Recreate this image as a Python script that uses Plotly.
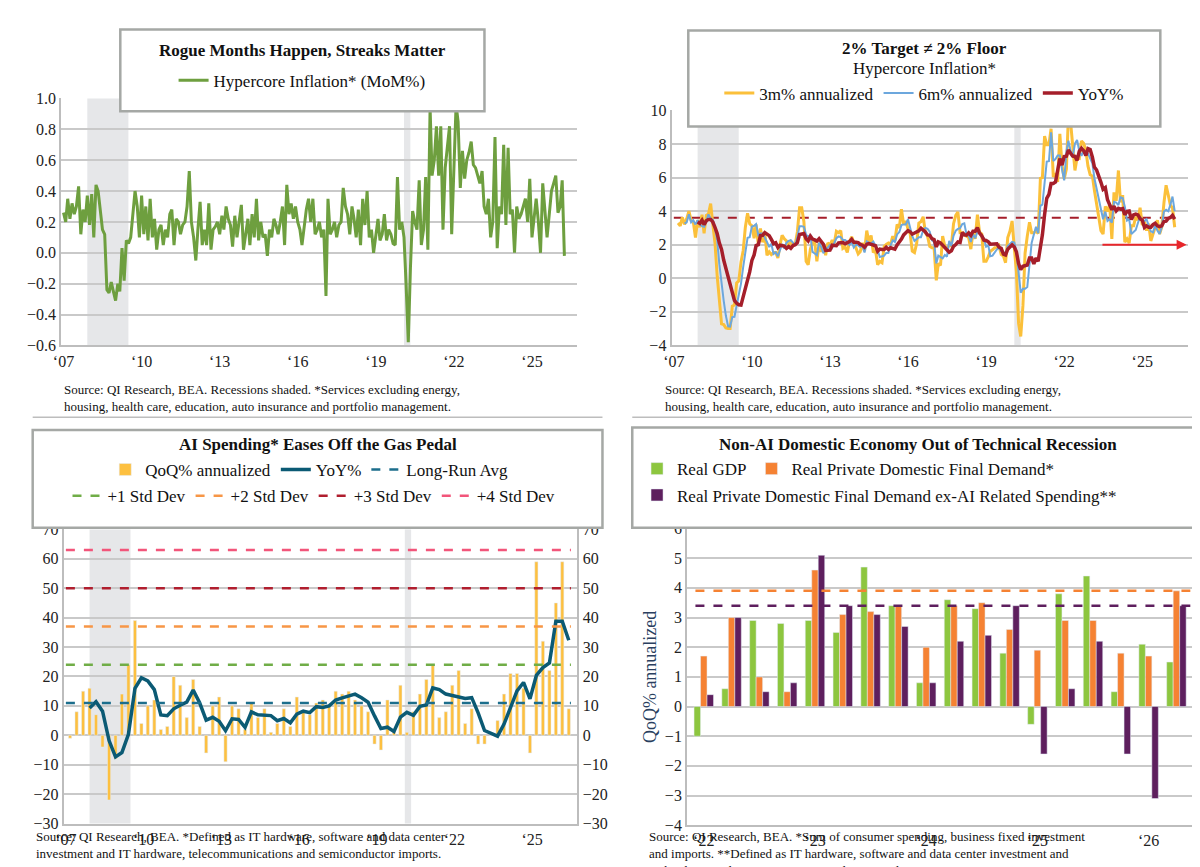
import numpy as np
import pandas as pd
import plotly.graph_objects as go

# ---- hypercore inflation, MoM %, Jan 2007 .. Apr 2026 ----
mom = [
    0.26, 0.20, 0.35, 0.22, 0.32, 0.25, 0.30, 0.43, 0.12, 0.28, 0.20, 0.37,   # 2007
    0.18, 0.38, 0.10, 0.44, 0.40, 0.25, 0.15, 0.12, -0.24, -0.26, -0.19, -0.25,  # 2008
    -0.31, -0.20, -0.25, 0.03, -0.18, 0.08, 0.06, 0.10, 0.25, 0.40, 0.30, 0.10,  # 2009
    0.37, 0.12, 0.30, 0.08, 0.35, 0.10, 0.22, 0.02, 0.15, 0.18, 0.05, 0.15,   # 2010
    0.10, 0.25, 0.28, 0.05, 0.22, 0.20, 0.12, 0.18, 0.20, 0.30, 0.53, 0.20,   # 2011
    0.10, -0.05, 0.15, 0.33, 0.05, 0.15, 0.05, 0.32, 0.02, 0.15, 0.17, 0.20,  # 2012
    0.12, 0.24, 0.15, 0.30, 0.22, 0.18, 0.04, 0.24, 0.10, 0.20, 0.31, 0.02,   # 2013
    0.12, 0.22, 0.05, 0.25, 0.10, 0.35, 0.08, 0.20, 0.10, 0.12, -0.02, 0.15,  # 2014
    0.10, 0.22, 0.18, 0.12, 0.20, 0.30, 0.05, 0.44, 0.25, 0.32, 0.22, 0.30,   # 2015
    0.20, 0.15, 0.05, 0.18, 0.28, 0.35, 0.20, 0.35, 0.12, 0.15, 0.20, 0.10,   # 2016
    0.15, -0.28, 0.35, 0.12, 0.15, 0.20, 0.10, 0.18, 0.20, 0.42, 0.30, 0.25,  # 2017
    0.12, 0.30, 0.22, 0.10, 0.28, 0.05, 0.35, 0.18, 0.40, 0.10, 0.15, 0.00,   # 2018
    0.10, 0.22, 0.08, 0.12, 0.25, 0.08, 0.15, 0.12, 0.06, 0.05, 0.49, 0.15,   # 2019
    0.20, 0.10, -0.20, -0.58, -0.10, 0.27, 0.20, 0.15, 0.47, 0.05, 0.15, 0.49,  # 2020
    0.02, 0.94, 0.50, 0.60, 0.82, 0.50, 0.82, 0.15, 0.55, 0.70, 0.82, 0.12,   # 2021
    0.50, 0.96, 0.85, 0.42, 0.66, 0.48, 0.60, 0.65, 0.72, 0.57, 0.55, 0.50,   # 2022
    0.45, 0.53, 0.30, 0.25, 0.35, 0.10, 0.20, 0.75, 0.03, 0.30, 0.25, 0.70,   # 2023
    0.18, 0.68, 0.25, 0.28, 0.00, 0.30, 0.22, 0.25, 0.30, 0.35, 0.20, 0.48,   # 2024
    0.10, 0.25, 0.35, 0.20, 0.00, 0.45, 0.30, 0.10, 0.25, 0.40, 0.45, 0.50,   # 2025
    0.26, 0.30, 0.47, -0.02,                                                  # 2026
]
hyper_avg = 3.6
floor_level = 2.0

# ---- AI spending, QoQ % annualized, 2007Q1 .. 2026Q2 ----
ai_qoq = [
    -1, 8, 15, 16,   7, -4, -22, -8,   14, 24, 39, 4,   10, 12, 2, 3,
    20, 17, 6, 19,   3, -6, 10, 13,   -9, 10, 9, 2,   11, 6, 9, 1,
    4, 9, 3, 13,   8, 7, 11, 12,   10, 15, 14, 15,   12, 10, 8, -3,
    -5, 12, 2, 17,   1, 8, 14, 19,   24, 6, 8, 17,   22, 4, 9, -3,
    -3, 0, 5, 14,   21, 21, 16, -6,   59, 32, 22, 45,   59, 9,
]
ai_bands = {"Long-Run Avg": 11, "+1 Std Dev": 24, "+2 Std Dev": 37,
            "+3 Std Dev": 50, "+4 Std Dev": 63}

# ---- Non-AI domestic economy, QoQ % annualized, 2022Q1 .. 2026Q2 ----
gdp = [-1.0, 0.6, 2.9, 2.8, 2.9, 2.5, 4.7, 3.4, 0.8, 3.6, 3.3, 1.8, -0.6, 3.8, 4.4, 0.5, 2.1, 1.5]
pdfd = [1.7, 3.0, 1.0, 0.5, 4.6, 3.1, 3.2, 3.4, 2.0, 3.4, 3.5, 2.6, 1.9, 2.9, 2.9, 1.8, 1.7, 3.9]
pdfd_ex_ai = [0.4, 3.0, 0.5, 0.8, 5.1, 3.4, 3.1, 2.7, 0.8, 2.2, 2.4, 3.4, -1.6, 0.6, 2.2, -1.6, -3.1, 3.4]
pdfd_avg = 3.9
pdfd_ex_ai_avg = 3.4
q_ticks = ["‘22", "‘23", "‘24", "‘25", "‘26"]

recessions = [("2007-12-01", "2009-06-30"), ("2020-02-01", "2020-04-30")]
year_ticks = [f"{y}-01-01" for y in range(2007, 2026, 3)]
year_text = [f"‘{y % 100:02d}" for y in range(2007, 2026, 3)]

# derived series (as the chart defines them)
months = pd.date_range("2007-01-01", periods=len(mom), freq="MS")
g = pd.Series(1 + np.array(mom) / 100, index=months)
m3 = (g.rolling(3).apply(np.prod) ** 4 - 1) * 100
m6 = (g.rolling(6).apply(np.prod) ** 2 - 1) * 100
yoy = (g.rolling(12).apply(np.prod) - 1) * 100

quarters = pd.date_range("2007-02-15", periods=len(ai_qoq), freq="3MS")
qg = pd.Series((1 + np.array(ai_qoq) / 100) ** 0.25, index=quarters)
ai_yoy = (qg.rolling(4).apply(np.prod) - 1) * 100

FONT = "Liberation Serif"
GRID = "#C9C9C9"
fig = go.Figure()

# top-left
fig.add_trace(go.Scatter(x=months, y=mom, mode="lines", name="Hypercore Inflation* (MoM%)",
                         line=dict(color="#6E9F3F", width=3), xaxis="x", yaxis="y", legend="legend"))
# top-right
fig.add_trace(go.Scatter(x=months, y=[hyper_avg] * len(months), mode="lines", showlegend=False,
                         line=dict(color="#A51E2A", width=2, dash="dash"), xaxis="x2", yaxis="y2"))
fig.add_trace(go.Scatter(x=months, y=m3, mode="lines", name="3m% annualized",
                         line=dict(color="#FBC03A", width=3), xaxis="x2", yaxis="y2", legend="legend2"))
fig.add_trace(go.Scatter(x=months, y=m6, mode="lines", name="6m% annualized",
                         line=dict(color="#6CA7DD", width=2), xaxis="x2", yaxis="y2", legend="legend2"))
fig.add_trace(go.Scatter(x=months, y=yoy, mode="lines", name="YoY%",
                         line=dict(color="#A51E2A", width=3.5), xaxis="x2", yaxis="y2", legend="legend2"))
# bottom-left
band_colors = {"Long-Run Avg": "#1C6E8C", "+1 Std Dev": "#70AD47", "+2 Std Dev": "#F79646",
               "+3 Std Dev": "#B01E2E", "+4 Std Dev": "#F2557A"}
fig.add_trace(go.Bar(x=quarters, y=ai_qoq, name="QoQ% annualized", marker_color="#FDC040",
                     width=1000 * 3600 * 24 * 45, xaxis="x3", yaxis="y3", legend="legend3"))
band_x = [pd.Timestamp("2007-01-01"), pd.Timestamp("2026-07-01")]
for name, val in ai_bands.items():
    fig.add_trace(go.Scatter(x=band_x, y=[val, val], mode="lines", name=name,
                             line=dict(color=band_colors[name], width=2.5, dash="dash"),
                             xaxis="x3", yaxis="y3",
                             legend="legend3" if name == "Long-Run Avg" else "legend5"))
fig.add_trace(go.Scatter(x=quarters, y=ai_yoy, mode="lines", name="YoY%",
                         line=dict(color="#0B5A74", width=3.5), xaxis="x3", yaxis="y3", legend="legend3"))
fig.data = [fig.data[0], fig.data[1], fig.data[2], fig.data[3], fig.data[4], fig.data[5],
            fig.data[11], fig.data[6], fig.data[7], fig.data[8], fig.data[9], fig.data[10]]
fig.add_trace(go.Scatter(x=band_x, y=[None, None], showlegend=False, xaxis="x3", yaxis="y5"))
# bottom-right
qi = list(range(len(gdp)))
fig.add_trace(go.Bar(x=qi, y=gdp, name="Real GDP", marker_color="#8DC63F",
                     xaxis="x4", yaxis="y4", legend="legend4"))
fig.add_trace(go.Bar(x=qi, y=pdfd, name="Real Private Domestic Final Demand*", marker_color="#F58233",
                     xaxis="x4", yaxis="y4", legend="legend4"))
fig.add_trace(go.Bar(x=qi, y=pdfd_ex_ai, name="Real Private Domestic Final Demand ex-AI Related Spending**",
                     marker_color="#5E1F5E", xaxis="x4", yaxis="y4", legend="legend6"))
for val, col in [(pdfd_avg, "#F58233"), (pdfd_ex_ai_avg, "#5E1F5E")]:
    fig.add_trace(go.Scatter(x=[-0.3, len(gdp) - 0.5], y=[val, val], mode="lines", showlegend=False,
                             line=dict(color=col, width=2.5, dash="dash"), xaxis="x4", yaxis="y4"))

tick_font = dict(family=FONT, size=16, color="#222")
ax_common = dict(showgrid=False, showline=True, linecolor="#BDBDBD", linewidth=2,
                 ticks="", tickfont=tick_font, zeroline=False)
y_common = dict(showgrid=True, gridcolor=GRID, gridwidth=2, showline=True, linecolor="#BDBDBD",
                linewidth=2, ticks="", tickfont=tick_font, zeroline=False)
date_x = dict(ax_common, type="date", tickvals=year_ticks, ticktext=year_text,
              range=["2006-12-01", "2026-10-01"])

shapes = []
for xr in ["x", "x2", "x3"]:
    for s, e in recessions:
        shapes.append(dict(type="rect", xref=xr, yref=f"{'y' if xr == 'x' else 'y' + xr[1:]} domain",
                           x0=s, x1=e, y0=0, y1=1, fillcolor="#E6E7E9", line_width=0, layer="below"))
for x0, y0, x1, y1 in [(0.0875, 0.888, 0.393, 0.984), (0.564, 0.870, 0.96, 0.983),
                       (0.014, 0.398, 0.492, 0.513), (0.517, 0.398, 0.997, 0.516)]:
    shapes.append(dict(type="rect", xref="paper", yref="paper", x0=x0, y0=y0, x1=x1, y1=y1,
                       fillcolor="white", line=dict(color="#A5A8A5", width=2.5), layer="above"))
for x0, x1 in [(0.014, 0.492), (0.517, 0.997)]:
    shapes.append(dict(type="line", xref="paper", yref="paper", x0=x0, x1=x1, y0=0.528, y1=0.528,
                       line=dict(color="#BDBDBD", width=1.5)))

def note(x, y, text, size=16, bold=False, anchor="center", valign="middle"):
    return dict(xref="paper", yref="paper", x=x, y=y, text=f"<b>{text}</b>" if bold else text,
                showarrow=False, xanchor=anchor, yanchor=valign, align="left" if anchor == "left" else "center",
                font=dict(family=FONT, size=size, color="#111"))

annotations = [
    note(0.240, 0.960, "Rogue Months Happen, Streaks Matter", 17, True),
    note(0.762, 0.962, "2% Target ≠ 2% Floor", 17, True),
    note(0.762, 0.938, "Hypercore Inflation*", 17),
    note(0.253, 0.496, "AI Spending* Eases Off the Gas Pedal", 17, True),
    note(0.757, 0.496, "Non-AI Domestic Economy Out of Technical Recession", 17, True),
    note(0.039, 0.572, "Source: QI Research, BEA. Recessions shaded. *Services excluding energy,<br>"
         "housing, health care, education, auto insurance and portfolio management.", 13, anchor="left", valign="top"),
    note(0.543, 0.572, "Source: QI Research, BEA. Recessions shaded. *Services excluding energy,<br>"
         "housing, health care, education, auto insurance and portfolio management.", 13, anchor="left", valign="top"),
    note(0.015, 0.046, "Source: QI Research, BEA. *Defined as IT hardware, software and data center<br>"
         "investment and IT hardware, telecommunications and semiconductor imports.", 13, anchor="left", valign="top"),
    note(0.529, 0.046, "Source: QI Research, BEA. *Sum of consumer spending, business fixed investment<br>"
         "and imports. **Defined as IT hardware, software and data center investment and<br>"
         "IT hardware, telecommunications and semiconductor imports.", 13, anchor="left", valign="top"),
    dict(xref="x2", yref="y2", x="2026-09-15", y=floor_level, ax="2023-06-01", ay=floor_level,
         axref="x2", ayref="y2", showarrow=True, arrowhead=2, arrowsize=1, arrowwidth=2,
         arrowcolor="#E8262B", text=""),
]

leg_font = dict(family=FONT, size=17, color="#111")
def legend(x, y, anchor="center"):
    return dict(x=x, y=y, xanchor=anchor, yanchor="middle", orientation="h", bgcolor="rgba(0,0,0,0)",
                font=leg_font, itemwidth=30, tracegroupgap=0, traceorder="normal")

fig.update_layout(
    width=1200, height=867, margin=dict(l=0, r=0, t=0, b=0),
    paper_bgcolor="white", plot_bgcolor="white", barmode="group", bargap=0.3, bargroupgap=0,
    showlegend=True, font=dict(family=FONT),
    xaxis=dict(date_x, domain=[0.038, 0.471], anchor="y"),
    yaxis=dict(y_common, domain=[0.6125, 0.903], anchor="x", range=[-0.6, 1.0], dtick=0.2, tickformat=".1f"),
    xaxis2=dict(date_x, domain=[0.550, 0.983], anchor="y2"),
    yaxis2=dict(y_common, domain=[0.6125, 0.889], anchor="x2", range=[-4, 10], dtick=2),
    xaxis3=dict(date_x, domain=[0.040, 0.471], anchor="y3"),
    yaxis3=dict(y_common, domain=[0.050, 0.396], anchor="x3", range=[-30, 70], dtick=10),
    yaxis5=dict(y_common, overlaying="y3", side="right", anchor="x3", range=[-30, 70], dtick=10,
                showgrid=False),
    xaxis4=dict(ax_common, domain=[0.563, 0.9875], anchor="y4", range=[-0.6, len(gdp) - 0.4],
                tickvals=[0, 4, 8, 12, 16], ticktext=q_ticks),
    yaxis4=dict(y_common, domain=[0.048, 0.397], anchor="x4", range=[-4, 6], dtick=1,
                title=dict(text="QoQ% annualized", font=dict(family=FONT, size=18), standoff=4)),
    legend=legend(0.240, 0.924),
    legend2=legend(0.762, 0.909),
    legend3=legend(0.246, 0.466),
    legend5=legend(0.250, 0.435),
    legend4=legend(0.521, 0.467, "left"),
    legend6=legend(0.521, 0.436, "left"),
    shapes=shapes, annotations=annotations,
)

fig.write_html("out.html")
